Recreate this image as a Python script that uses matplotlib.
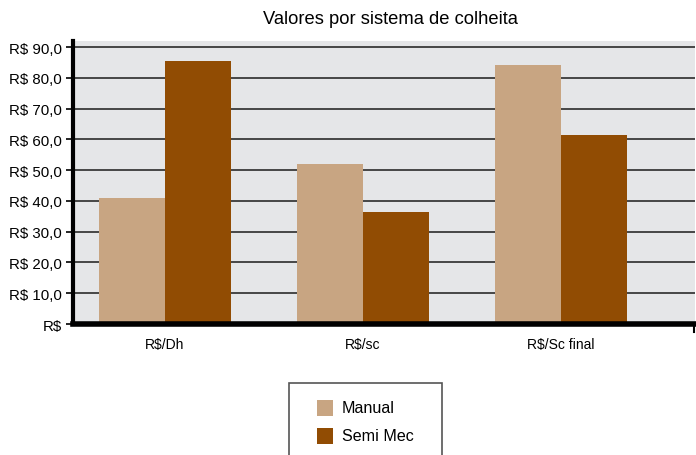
import matplotlib
matplotlib.use("Agg")
import matplotlib.pyplot as plt
import numpy as np
from matplotlib.patches import Rectangle

plt.rcParams['font.family'] = ['Liberation Sans', 'DejaVu Sans']

categories = ["R$/Dh", "R$/sc", "R$/Sc final"]
manual = [41.1, 51.9, 84.1]
semi_mec = [85.4, 36.5, 61.6]
series_names = ["Manual", "Semi Mec"]
y_ticks = [0, 10, 20, 30, 40, 50, 60, 70, 80, 90]
y_tick_labels = ["R$"] + [f"R$ {v:.1f}".replace(".", ",") for v in y_ticks[1:]]

color_manual = "#C8A582"
color_semi = "#914C03"

W, H = 696, 456
fig = plt.figure(figsize=(W / 100, H / 100), dpi=100)
ax = fig.add_axes([73 / W, 1 - 325 / H, (695 - 73) / W, (325 - 42) / H])
ax.set_facecolor("#E5E6E8")

x = np.arange(len(categories))
w = 0.335
ax.bar(x - w / 2, manual, width=w, color=color_manual, zorder=3)
ax.bar(x + w / 2, semi_mec, width=w, color=color_semi, zorder=3)

ax.set_xlim(-0.465, 2.677)
ax.set_ylim(0, 92)
ax.set_yticks(y_ticks)
ax.set_yticklabels(y_tick_labels, fontsize=10.8)
ax.set_xticks(x)
ax.set_xticklabels(categories, fontsize=10)
ax.tick_params(axis='x', length=0, pad=9)
ax.tick_params(axis='y', length=5, width=1.2, direction='out', pad=3)

for v in y_ticks[1:]:
    ax.axhline(v, color="#3a3a3a", lw=1.3, zorder=1)

for side in ("top", "right"):
    ax.spines[side].set_visible(False)
ax.spines["left"].set_linewidth(3)
ax.spines["bottom"].set_linewidth(4)
ax.spines["left"].set_zorder(4)
ax.spines["bottom"].set_zorder(4)

# small end tick at the right of the category axis
ax.plot([2.677 - 0.004, 2.677 - 0.004], [0, -2.5], color="black", lw=1.5,
        clip_on=False, zorder=5)

fig.text(390 / W, 1 - 19 / H, "Valores por sistema de colheita",
         ha="center", va="center", fontsize=13.2)

# legend box, running off the bottom edge of the figure
fig.add_artist(Rectangle((289 / W, -0.05), (442 - 289) / W, (1 - 384 / H) + 0.05,
                         transform=fig.transFigure, facecolor="white",
                         edgecolor="#555555", lw=1.2))
for name, col, yc in zip(series_names, [color_manual, color_semi], [409, 437]):
    fig.add_artist(Rectangle((317 / W, 1 - (yc + 8) / H), 16 / W, 16 / H,
                             transform=fig.transFigure, facecolor=col,
                             edgecolor="none"))
    fig.text(342 / W, 1 - yc / H, name, ha="left", va="center", fontsize=11.6)

fig.savefig("out.png", dpi=100)
